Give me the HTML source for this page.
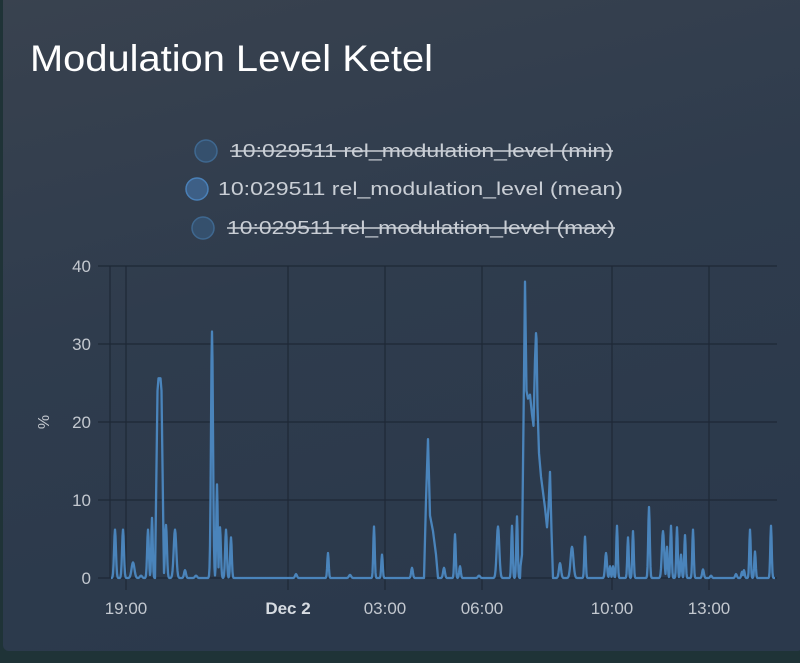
<!DOCTYPE html>
<html><head><meta charset="utf-8"><style>
html,body{margin:0;padding:0;width:800px;height:663px;overflow:hidden;background:#1f3236;}
svg{display:block}
</style></head><body>
<svg id="s" width="800" height="663" xmlns="http://www.w3.org/2000/svg">
<defs>
<linearGradient id="bg" x1="0" y1="0" x2="0.3" y2="1">
<stop offset="0" stop-color="#39424f"/><stop offset="0.5" stop-color="#2f3c4d"/><stop offset="1" stop-color="#2b394c"/>
</linearGradient>
</defs>
<rect x="0" y="0" width="800" height="663" fill="#1f3337"/>
<rect x="3" y="-6" width="800" height="657" rx="6" fill="url(#bg)"/>
<text x="30" y="71" font-family="Liberation Sans, sans-serif" font-size="37" fill="#ffffff" textLength="403" lengthAdjust="spacingAndGlyphs">Modulation Level Ketel</text>
<g font-family="Liberation Sans, sans-serif" font-size="18" fill="#c9ced5">
<circle cx="206" cy="151" r="11" fill="#35506d" stroke="#3f6890" stroke-width="1.5"/>
<text x="230" y="157" textLength="383" lengthAdjust="spacingAndGlyphs">10:029511 rel_modulation_level (min)</text>
<line x1="230" y1="151" x2="613" y2="151" stroke="#c9ced5" stroke-width="1.5"/>
<circle cx="197" cy="189" r="11" fill="#3d5f86" stroke="#4a80b8" stroke-width="1.5"/>
<text x="218" y="195" textLength="405" lengthAdjust="spacingAndGlyphs">10:029511 rel_modulation_level (mean)</text>
<circle cx="203" cy="228" r="11" fill="#35506d" stroke="#3f6890" stroke-width="1.5"/>
<text x="227" y="234" textLength="388" lengthAdjust="spacingAndGlyphs">10:029511 rel_modulation_level (max)</text>
<line x1="227" y1="228" x2="615" y2="228" stroke="#c9ced5" stroke-width="1.5"/>
</g>
<g stroke="#1e2836" stroke-width="1.2">
<line x1="98" y1="266" x2="777" y2="266"/><line x1="98" y1="344" x2="777" y2="344"/>
<line x1="98" y1="422" x2="777" y2="422"/><line x1="98" y1="500" x2="777" y2="500"/>
<line x1="98" y1="578" x2="777" y2="578"/>
<line x1="110" y1="266" x2="110" y2="578"/>
<line x1="126" y1="266" x2="126" y2="590"/><line x1="288" y1="266" x2="288" y2="590"/>
<line x1="385" y1="266" x2="385" y2="590"/><line x1="482" y1="266" x2="482" y2="590"/>
<line x1="612" y1="266" x2="612" y2="590"/><line x1="709" y1="266" x2="709" y2="590"/>
</g>
<g font-family="Liberation Sans, sans-serif" font-size="17" fill="#c3c8cf" text-anchor="end">
<text x="91" y="272">40</text><text x="91" y="350">30</text><text x="91" y="428">20</text><text x="91" y="506">10</text><text x="91" y="584">0</text>
</g>
<text x="0" y="0" transform="translate(49,422) rotate(-90)" font-family="Liberation Sans, sans-serif" font-size="16" fill="#c3c8cf" text-anchor="middle">%</text>
<g font-family="Liberation Sans, sans-serif" font-size="17" fill="#c3c8cf" text-anchor="middle">
<text x="126" y="614">19:00</text><text x="288" y="614" font-weight="bold" fill="#d6dbe1">Dec 2</text>
<text x="385" y="614">03:00</text><text x="482" y="614">06:00</text><text x="612" y="614">10:00</text><text x="709" y="614">13:00</text>
</g>
<path id="p" fill="none" stroke="#4a84bb" stroke-width="2.3" stroke-linejoin="round"/>
</svg>
<script>
var S=[[115,6.2,1.3],[123,6.2,1.3],[133,2,2],[141,0.3,1.5],[148,6.2,1.2],[152,7.7,1],[166,6.8,1.3],[175,6.2,1.8],[185,1,1.3],[196,0.3,1.5],[212,31.6,1.4],[217,12,1],[220,6.5,1.2],[226,6.2,1.2],[231,5.2,1.1],
[296,0.5,1.3],[328,3.2,1],[350,0.4,1.5],[374,6.6,1],[382,3.0,1],[412,1.3,1.2],[444,1.3,1.3],[455,5.6,1],[460,1.5,1.1],[479,0.3,1.5],[498,6.6,1.8],[512,6.7,1],[517,7.9,1],
[560,1.9,1.5],[572,4,2],[585,5.3,1],[606,3.2,1.3],[610,1.5,1],[613,1.5,1],[617,6.7,1],[628,5.2,1],[633,6.0,1],[649,9.1,1.1],[663,6.0,1.6],[667,4,1],[671,6.7,1],[677,6.5,1],[681,3,1],[685,5.5,1],[693,6.2,1],[703,1.1,1.2],[711,0.3,1.2],[736,0.5,1.2],[742,0.8,1],[744,1,1],[750,6.2,1],[755,3.4,1],[771,6.7,1]];
var C=[[[155,0],[157.5,24],[158.5,25.6],[160.5,25.6],[161.5,24],[164,0]],
[[424,0],[426,10],[428,17.8],[430,8],[433,6],[436,3],[438,0]],
[[520,1],[522,3],[523.5,20],[525,38],[526.5,24],[528,23],[530,23.5],[532,21],[533.5,19.5],[535,28],[536.3,32.4],[537.5,22],[539,16],[541,13],[543,11],[545,9],[547,6.5],[548.5,9],[550,13.6],[551.5,6],[553,0]]];
function ip(c,x){if(x<=c[0][0]||x>=c[c.length-1][0])return 0;for(var i=1;i<c.length;i++){if(x<=c[i][0]){var a=c[i-1],b=c[i];return a[1]+(b[1]-a[1])*(x-a[0])/(b[0]-a[0]);}}return 0;}
var d="";
for(var x=111;x<=775;x+=0.5){var v=0;for(var i=0;i<S.length;i++){var s=S[i],t=(x-s[0])/s[2];var w=s[1]*Math.exp(-t*t);if(w>v)v=w;}
for(var j=0;j<C.length;j++){var u=ip(C[j],x);if(u>v)v=u;}
if(x>=234&&x<=292&&v<0.05)v=0;var y=578-7.8*v;d+=(d?"L":"M")+x+" "+y.toFixed(2);}
document.getElementById("p").setAttribute("d",d);
</script>
</body></html>
